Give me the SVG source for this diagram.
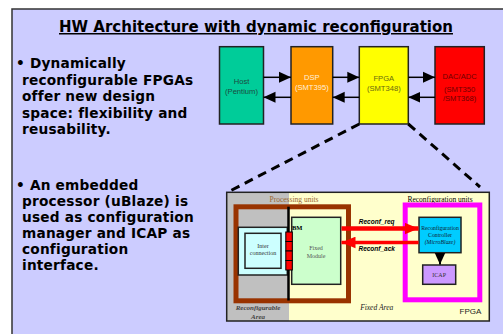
<svg xmlns="http://www.w3.org/2000/svg" width="503" height="334" viewBox="0 0 503 334">
<style>
.bt{font-family:"DejaVu Sans",Verdana,sans-serif;font-weight:bold;font-size:13.7px;letter-spacing:0.2px;fill:#000}
.tt{font-family:"DejaVu Sans",Verdana,sans-serif;font-weight:bold;font-size:15px;fill:#000}
.sm{font-family:"Liberation Sans",Arial,sans-serif;font-size:7.6px;text-anchor:middle}
.sf{font-family:"Liberation Serif","Times New Roman",serif;text-anchor:middle}
.box{stroke:#222;stroke-width:1.5}
.arr{stroke:#000;stroke-width:1.5;fill:none}
.dash{stroke:#000;stroke-width:3;stroke-dasharray:9 6;fill:none}
.red{stroke:#FF0000;fill:none}
</style>
<defs>
<marker id="ah" markerUnits="userSpaceOnUse" markerWidth="12" markerHeight="12" viewBox="0 0 11 10" refX="11" refY="5" orient="auto">
<path d="M0,0 L11,5 L0,10 Z" fill="#000"/>
</marker>
<marker id="rh" markerUnits="userSpaceOnUse" markerWidth="14" markerHeight="12" viewBox="0 0 12 10" refX="12" refY="5" orient="auto">
<path d="M0,0 L12,5 L0,10 Z" fill="#FF0000"/>
</marker>
</defs>
<rect x="0" y="0" width="503" height="334" fill="#fff"/>
<rect x="12" y="9" width="500" height="340" fill="#CCCCFF" stroke="#333" stroke-width="1.5"/>
<g id="title">
<text x="256" y="32" text-anchor="middle" class="tt" text-decoration="underline">HW Architecture with dynamic reconfiguration</text>
</g>
<g id="bullets">
<text class="bt" x="16" y="68">• Dynamically</text>
<text class="bt" x="22" y="84.5">reconfigurable FPGAs</text>
<text class="bt" x="22" y="101">offer new design</text>
<text class="bt" x="22" y="117.5">space: flexibility and</text>
<text class="bt" x="22" y="134">reusability.</text>
<text class="bt" x="16" y="190">• An embedded</text>
<text class="bt" x="22" y="206">processor (uBlaze) is</text>
<text class="bt" x="22" y="222">used as configuration</text>
<text class="bt" x="22" y="238">manager and ICAP as</text>
<text class="bt" x="22" y="254">configuration</text>
<text class="bt" x="22" y="270">interface.</text>
</g>
<g id="host">
<rect class="box" x="219.5" y="46.7" width="44" height="77.3" fill="#00CC99"/>
<text class="sm" x="241.5" y="84" fill="#1d4a3f">Host</text>
<text class="sm" x="241.5" y="94" fill="#1d4a3f">(Pentium)</text>
</g>
<g id="dsp">
<rect class="box" x="291" y="46.7" width="41.7" height="77.3" fill="#FF9900"/>
<text class="sm" x="311.8" y="79.5" fill="#fff0dc">DSP</text>
<text class="sm" x="311.8" y="90" fill="#fff0dc">(SMT395)</text>
</g>
<g id="fpga">
<rect class="box" x="359.3" y="46.7" width="49" height="77.3" fill="#FFFF00"/>
<text class="sm" x="383.8" y="80.5" fill="#6b6b10">FPGA</text>
<text class="sm" x="383.8" y="90.5" fill="#6b6b10">(SMT348)</text>
</g>
<g id="dacadc">
<rect class="box" x="435" y="46.7" width="49.3" height="77.3" fill="#FF0000"/>
<text class="sm" x="459.6" y="78.5" fill="#700000">DAC/ADC</text>
<text class="sm" x="459.6" y="91.5" fill="#700000">(SMT350</text>
<text class="sm" x="459.6" y="100.5" fill="#700000">/SMT368)</text>
</g>
<g id="fpga-detail">
<rect x="226.7" y="192.3" width="262.6" height="128.7" fill="#FFFFCC"/>
<rect x="226.7" y="192.3" width="62.3" height="128.7" fill="#C0C0C0"/>
<rect x="226.7" y="192.3" width="262.6" height="128.7" fill="none" stroke="#222" stroke-width="1.5"/>
<text class="sf" x="294" y="202" font-size="7.5" fill="#996633">Processing units</text>
<text class="sf" x="440" y="202" font-size="7.5" fill="#000">Reconfiguration units</text>
<rect x="236" y="206.8" width="112.5" height="94" fill="none" stroke="#993300" stroke-width="5"/>
<text class="sf" x="258" y="310" font-size="7" font-style="italic" font-weight="bold" fill="#444">Reconfigurable</text>
<text class="sf" x="258" y="318.5" font-size="7" font-style="italic" font-weight="bold" fill="#444">Area</text>
<text class="sf" x="376.7" y="310" font-size="7.5" font-style="italic" fill="#222">Fixed Area</text>
<text x="470.5" y="313.5" text-anchor="middle" font-family="'Liberation Sans',Arial,sans-serif" font-size="8" fill="#222">FPGA</text>
</g>
<g id="interconnect">
<rect x="238.3" y="227.3" width="49" height="47.7" fill="#CCFFFF" stroke="#222" stroke-width="1.5"/>
<rect x="245" y="233.3" width="36" height="35" fill="#CCFFFF" stroke="#222" stroke-width="1.5"/>
<text class="sf" x="263" y="248" font-size="6" fill="#333">Inter</text>
<text class="sf" x="263" y="255" font-size="6" fill="#333">connection</text>
</g>
<g id="fixed-module">
<rect x="291.7" y="217.3" width="49" height="67" fill="#CCFFCC" stroke="#222" stroke-width="1.5"/>
<text class="sf" x="316" y="250" font-size="6" fill="#555">Fixed</text>
<text class="sf" x="316" y="257.5" font-size="6" fill="#555">Module</text>
</g>
<g id="bus-macro">
<line x1="288.5" y1="206.7" x2="288.5" y2="300.5" stroke="#000" stroke-width="2.5"/>
<rect x="285.8" y="232" width="6.5" height="9.5" fill="#FF0000" stroke="#000" stroke-width="1"/>
<rect x="285.8" y="241.5" width="6.5" height="9.5" fill="#FF0000" stroke="#000" stroke-width="1"/>
<rect x="285.8" y="251" width="6.5" height="9.5" fill="#FF0000" stroke="#000" stroke-width="1"/>
<rect x="285.8" y="260.5" width="6.5" height="9.5" fill="#FF0000" stroke="#000" stroke-width="1"/>
<text x="292" y="229.5" font-family="'Liberation Serif',serif" font-size="6.5" font-weight="bold" fill="#000">BM</text>
</g>
<g id="reconf-labels">
<text x="376.7" y="224" text-anchor="middle" font-family="'Liberation Sans',Arial,sans-serif" font-size="6.5" font-weight="bold" font-style="italic" fill="#000">Reconf_req</text>
<text x="376.7" y="251" text-anchor="middle" font-family="'Liberation Sans',Arial,sans-serif" font-size="6.5" font-weight="bold" font-style="italic" fill="#000">Reconf_ack</text>
</g>
<g id="reconf-units">
<rect x="405.2" y="205" width="74.6" height="94.8" fill="none" stroke="#FF00FF" stroke-width="5"/>
</g>
<g id="controller">
<rect x="419" y="217.3" width="42" height="35.4" fill="#00CCFF" stroke="#222" stroke-width="1.5"/>
<text class="sf" x="440" y="230" font-size="5.8" fill="#123">Reconfiguration</text>
<text class="sf" x="440" y="237" font-size="5.8" fill="#123">Controller</text>
<text class="sf" x="440" y="244" font-size="5.8" font-style="italic" fill="#123">(MicroBlaze)</text>
</g>
<g id="icap">
<rect x="422.7" y="265" width="33" height="19.3" fill="#CC99FF" stroke="#222" stroke-width="1.5"/>
<text class="sf" x="439.2" y="277" font-size="6" fill="#333">ICAP</text>
</g>
<g id="connectors">
<line class="arr" x1="263.5" y1="77.3" x2="291" y2="77.3" marker-end="url(#ah)"/>
<line class="arr" x1="291" y1="97.3" x2="263.5" y2="97.3" marker-end="url(#ah)"/>
<line class="arr" x1="332.7" y1="77.3" x2="359.3" y2="77.3" marker-end="url(#ah)"/>
<line class="arr" x1="359.3" y1="97.3" x2="332.7" y2="97.3" marker-end="url(#ah)"/>
<line class="arr" x1="408.3" y1="77.3" x2="435" y2="77.3" marker-end="url(#ah)"/>
<line class="arr" x1="435" y1="97.3" x2="408.3" y2="97.3" marker-end="url(#ah)"/>
<line class="dash" x1="359.3" y1="124" x2="228" y2="192"/>
<line class="dash" x1="408.3" y1="124" x2="480" y2="187"/>
<line class="red" stroke-width="4.5" x1="341.5" y1="228.5" x2="418.5" y2="228.5" marker-end="url(#rh)"/>
<line class="red" stroke-width="3.5" x1="418.5" y1="242.5" x2="341.5" y2="242.5" marker-end="url(#rh)"/>
<line x1="440" y1="253.5" x2="440" y2="264.5" stroke="#000" stroke-width="2" marker-end="url(#ah)"/>
</g>
</svg>
